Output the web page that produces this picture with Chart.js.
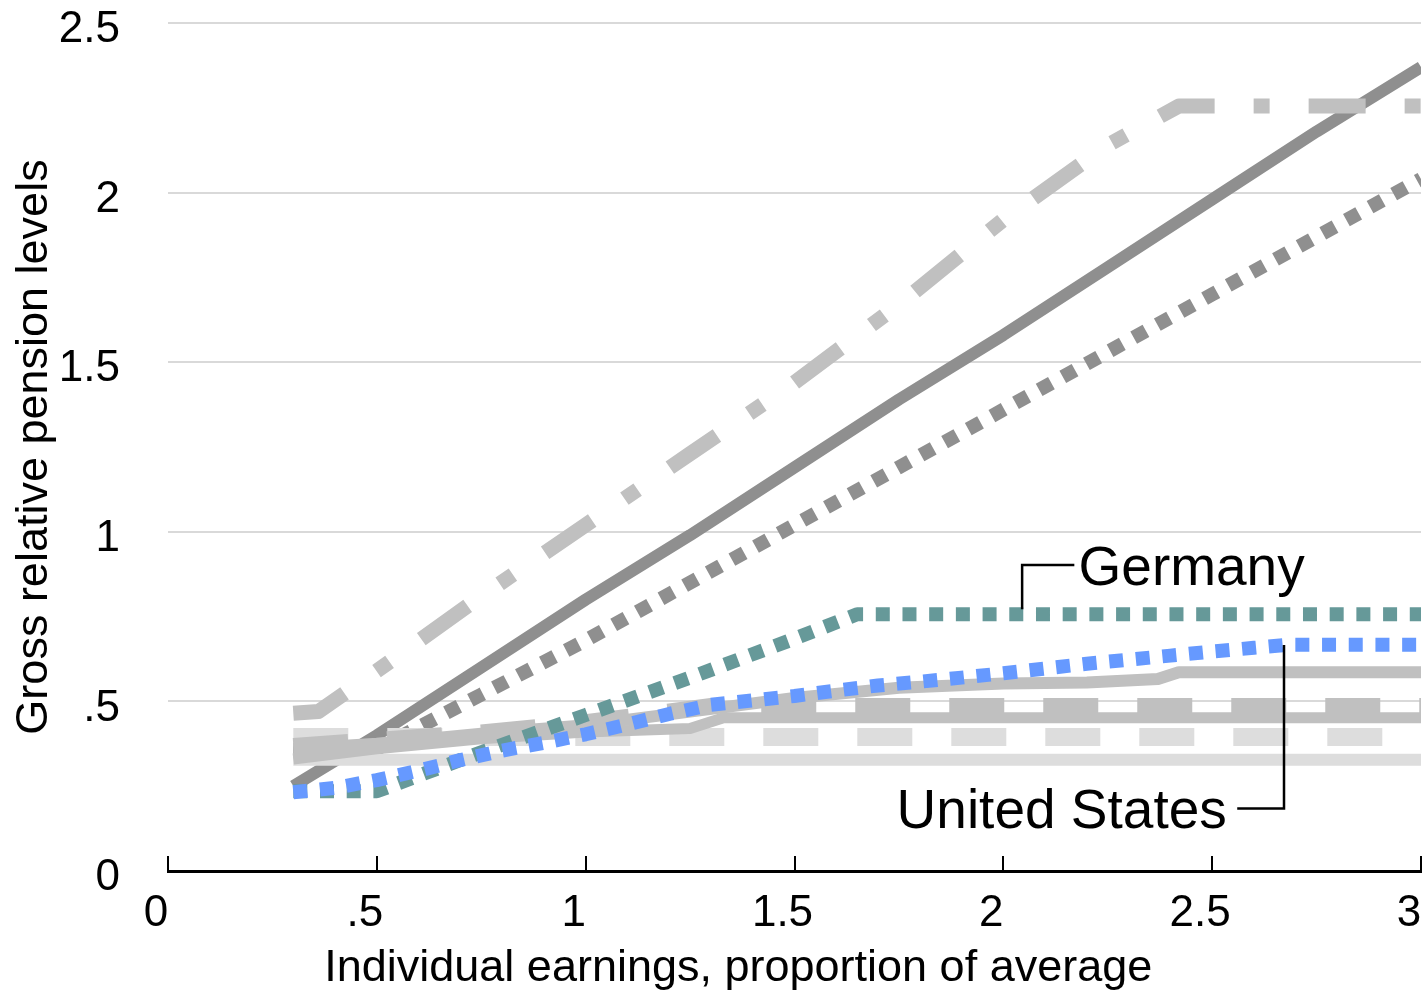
<!DOCTYPE html>
<html>
<head>
<meta charset="utf-8">
<title>Gross relative pension levels</title>
<script src="https://cdn.jsdelivr.net/npm/chart.js@4.4.1/dist/chart.umd.min.js"></script>
<style>
  html, body { margin: 0; padding: 0; background: #fff; overflow: hidden; }
  #wrap { width: 1423px; height: 992px; position: relative; }
</style>
</head>
<body>
<div id="wrap"><canvas id="pensionChart"></canvas></div>
<script>
// Tick labels
const xTickLabels = ['0', '.5', '1', '1.5', '2', '2.5', '3'];
const yTickLabels = ['0', '.5', '1', '1.5', '2', '2.5'];

// United States
const usX = [0.3, 0.4, 0.5, 0.6, 0.7, 0.8, 0.9, 1.0, 1.1, 1.2, 1.3, 1.4, 1.5, 1.6, 1.7, 1.8, 1.9, 2.0, 2.1, 2.2, 2.3, 2.4, 2.5, 2.6, 2.68, 3.0];
const usY = [0.232, 0.245, 0.268, 0.296, 0.327, 0.355, 0.378, 0.403, 0.432, 0.463, 0.49, 0.503, 0.516, 0.532, 0.547, 0.558, 0.57, 0.583, 0.597, 0.611, 0.623, 0.635, 0.647, 0.658, 0.667, 0.667];

// Germany
const germanyX = [0.3, 0.5, 0.75, 1.0, 1.25, 1.5, 1.65, 3.0];
const germanyY = [0.235, 0.235, 0.35, 0.46, 0.57, 0.685, 0.757, 0.757];

// Other countries (grey)
const curveX = [0.3, 0.5, 0.75, 1.0, 1.25, 1.5, 1.75, 2.0, 2.2, 2.37, 2.42, 3.0];
const curveY = [0.36, 0.375, 0.405, 0.43, 0.47, 0.51, 0.54, 0.553, 0.556, 0.566, 0.586, 0.586];

const dashMidX = [0.3, 0.75, 1.0, 1.3, 3.0];
const dashMidY = [0.37, 0.41, 0.44, 0.488, 0.488];

const solidMidX = [0.3, 0.5, 0.75, 1.0, 1.25, 1.33, 3.0];
const solidMidY = [0.33, 0.36, 0.39, 0.41, 0.42, 0.452, 0.452];

const paleDashX = [0.3, 3.0];
const paleDashY = [0.395, 0.395];

const paleSolidX = [0.3, 3.0];
const paleSolidY = [0.328, 0.328];

const dashDotX = [0.3, 0.36, 0.5, 0.75, 1.0, 1.25, 1.5, 1.75, 2.0, 2.25, 2.42, 3.0];
const dashDotY = [0.465, 0.47, 0.59, 0.81, 1.02, 1.23, 1.44, 1.67, 1.92, 2.14, 2.255, 2.255];

const darkDotX = [0.3, 0.5, 0.75, 1.0, 1.25, 1.5, 1.75, 2.0, 2.25, 2.5, 2.75, 3.0];
const darkDotY = [0.35, 0.36, 0.52, 0.68, 0.85, 1.02, 1.19, 1.36, 1.53, 1.70, 1.87, 2.04];

const darkSolidX = [0.3, 0.5, 0.75, 1.0, 1.25, 1.5, 1.75, 2.0, 2.25, 2.5, 2.75, 3.0];
const darkSolidY = [0.25, 0.40, 0.60, 0.80, 0.99, 1.19, 1.39, 1.58, 1.78, 1.98, 2.18, 2.37];

function toPoints(xs, ys) {
    return xs.map((x, i) => ({ x: x, y: ys[i] }));
}

const FONT = 'Liberation Sans, Arial, sans-serif';

// draws the two country call-outs with their leader lines
const calloutPlugin = {
    id: 'callouts',
    afterDatasetsDraw(chart) {
        const ctx = chart.ctx;
        const xs = chart.scales.x;
        const ys = chart.scales.y;
        const px = v => xs.getPixelForValue(v);
        const py = v => ys.getPixelForValue(v);

        ctx.save();
        ctx.strokeStyle = '#000';
        ctx.lineWidth = 2.5;

        // Germany leader
        ctx.beginPath();
        ctx.moveTo(px(2.17), py(0.902));
        ctx.lineTo(px(2.045), py(0.902));
        ctx.lineTo(px(2.045), py(0.772));
        ctx.stroke();

        // United States leader
        ctx.beginPath();
        ctx.moveTo(px(2.56), py(0.184));
        ctx.lineTo(px(2.672), py(0.184));
        ctx.lineTo(px(2.672), py(0.666));
        ctx.stroke();

        ctx.fillStyle = '#000';
        ctx.font = '55px ' + FONT;
        ctx.textBaseline = 'alphabetic';
        ctx.textAlign = 'left';
        ctx.fillText('Germany', px(2.18), py(0.843));
        ctx.textAlign = 'right';
        ctx.fillText('United States', px(2.535), py(0.127));
        ctx.restore();
    }
};

const ctx = document.getElementById('pensionChart').getContext('2d');

new Chart(ctx, {
    type: 'line',
    data: {
        datasets: [
            { label: 'United States', data: toPoints(usX, usY), borderColor: '#6699ff', borderWidth: 14, borderDash: [14, 12.7] },
            { label: 'Germany', data: toPoints(germanyX, germanyY), borderColor: '#669999', borderWidth: 14, borderDash: [14, 12.7] },
            { label: 'grey curve', data: toPoints(curveX, curveY), borderColor: '#c0c0c0', borderWidth: 12 },
            { label: 'grey dash', data: toPoints(dashMidX, dashMidY), borderColor: '#c0c0c0', borderWidth: 15, borderDash: [55, 39] },
            { label: 'grey solid', data: toPoints(solidMidX, solidMidY), borderColor: '#c0c0c0', borderWidth: 11 },
            { label: 'pale dash', data: toPoints(paleDashX, paleDashY), borderColor: '#dddddd', borderWidth: 18, borderDash: [55, 39] },
            { label: 'pale solid', data: toPoints(paleSolidX, paleSolidY), borderColor: '#dddddd', borderWidth: 12 },
            { label: 'grey dash-dot', data: toPoints(dashDotX, dashDotY), borderColor: '#c0c0c0', borderWidth: 15, borderDash: [57, 39, 16, 39] },
            { label: 'dark dot', data: toPoints(darkDotX, darkDotY), borderColor: '#8f8f8f', borderWidth: 14, borderDash: [14, 13] },
            { label: 'dark solid', data: toPoints(darkSolidX, darkSolidY), borderColor: '#8f8f8f', borderWidth: 12 }
        ]
    },
    options: {
        responsive: true,
        maintainAspectRatio: false,
        animation: false,
        layout: { padding: { top: 23, right: 2, bottom: 0, left: 0 } },
        elements: {
            point: { radius: 0, hoverRadius: 0 },
            line: { tension: 0, fill: false, borderCapStyle: 'butt', borderJoinStyle: 'round' }
        },
        plugins: {
            legend: { display: false },
            tooltip: { enabled: false }
        },
        scales: {
            x: {
                type: 'linear',
                min: 0,
                max: 3,
                ticks: {
                    stepSize: 0.5,
                    autoSkip: false,
                    maxRotation: 0,
                    padding: 31,
                    labelOffset: -12,
                    color: '#000',
                    font: { family: FONT, size: 44 },
                    callback: (value, index) => xTickLabels[index]
                },
                grid: {
                    drawOnChartArea: false,
                    drawTicks: true,
                    tickLength: -15,
                    color: '#000',
                    lineWidth: 2
                },
                border: { display: true, color: '#000', width: 3 },
                title: {
                    display: true,
                    text: 'Individual earnings, proportion of average         ',
                    color: '#000',
                    font: { family: FONT, size: 45 },
                    padding: { top: 0, bottom: -4 }
                },
                afterFit: scale => {
                    scale.height = 121;
                    scale.paddingLeft = 0;
                    scale.paddingRight = 0;
                }
            },
            y: {
                type: 'linear',
                min: 0,
                max: 2.5,
                ticks: {
                    stepSize: 0.5,
                    padding: 48,
                    labelOffset: 7,
                    color: '#000',
                    font: { family: FONT, size: 44 },
                    callback: (value, index) => yTickLabels[index]
                },
                grid: { color: '#d9d9d9', lineWidth: 2, drawTicks: false },
                border: { display: false },
                title: {
                    display: true,
                    text: 'Gross relative pension levels',
                    color: '#000',
                    font: { family: FONT, size: 45 },
                    padding: { top: 8, bottom: 0 }
                },
                afterFit: scale => {
                    scale.width = 168;
                    scale.paddingTop = 0;
                    scale.paddingBottom = 0;
                }
            }
        }
    },
    plugins: [calloutPlugin]
});
</script>
</body>
</html>
